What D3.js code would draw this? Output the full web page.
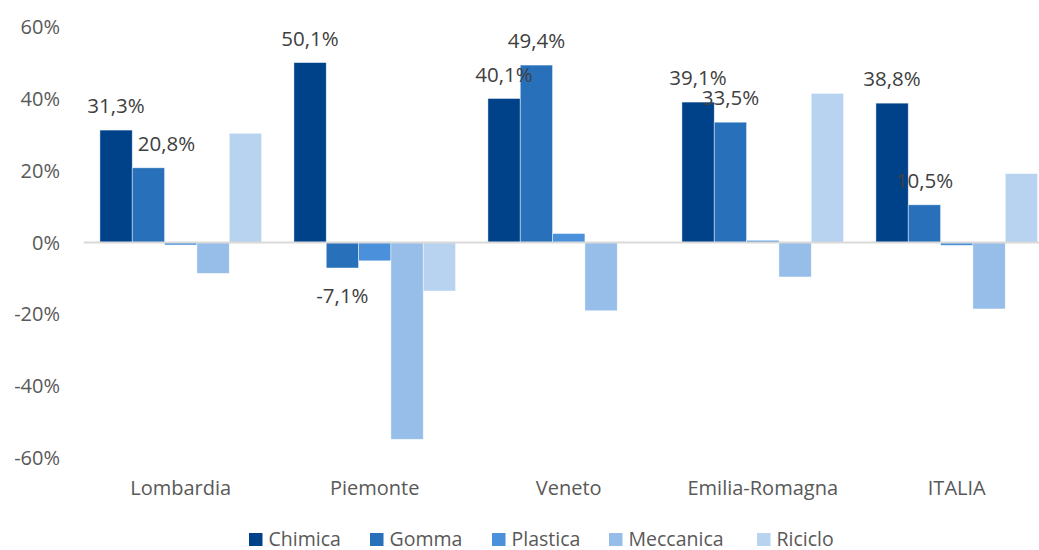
<!DOCTYPE html>
<html>
<head>
<meta charset="utf-8">
<script src="https://cdn.jsdelivr.net/npm/d3@7"></script>
<style>
  html, body { margin: 0; padding: 0; background: #fff; }
  svg { display: block; }
  text { font-family: "Open Sans", "Noto Sans", sans-serif; }
</style>
</head>
<body>
<svg id="chart" width="1039" height="550"></svg>
<script>
const categories = ["Lombardia", "Piemonte", "Veneto", "Emilia-Romagna", "ITALIA"];
const seriesNames = ["Chimica", "Gomma", "Plastica", "Meccanica", "Riciclo"];
const chimica   = [31.3, 50.1, 40.1, 39.1, 38.8];
const gomma     = [20.8, -7.1, 49.4, 33.5, 10.5];
const plastica  = [-0.7, -5.1, 2.5, 0.6, -0.8];
const meccanica = [-8.6, -54.8, -19.0, -9.6, -18.5];
const riciclo   = [30.4, -13.5, 0, 41.5, 19.2];
const yTicks = [-60, -40, -20, 0, 20, 40, 60];
const labelledSeries = ["Chimica", "Gomma"];
const colors = ["#00428A", "#2870BA", "#4A90DA", "#96BEE8", "#B8D3F0"];

const seriesValues = [chimica, gomma, plastica, meccanica, riciclo];
const fmt = v => d3.format(".1f")(v).replace(".", ",").replace("\u2212", "-") + "%";

const svg = d3.select("#chart");
const left = 83.75, step = 194;
const x0 = d3.scaleBand().domain(categories)
  .range([left, left + step * categories.length]).paddingInner(0).paddingOuter(0);
const x1 = d3.scaleBand().domain(seriesNames)
  .range([0, x0.bandwidth()]).paddingOuter(0.5).paddingInner(0);
const y = d3.scaleLinear().domain([-60, 60]).range([458, 27]);

// y axis labels
svg.append("g").selectAll("text").data(yTicks).join("text")
  .attr("x", 60).attr("y", d => y(d)).attr("dy", "0.35em")
  .attr("text-anchor", "end").attr("font-size", 20).attr("fill", "#595959")
  .text(d => d + "%");

// bars
const groups = svg.append("g").selectAll("g").data(categories).join("g")
  .attr("transform", d => `translate(${x0(d)},0)`);
groups.selectAll("rect")
  .data((c, ci) => seriesNames.map((s, si) => ({ s, si, v: seriesValues[si][ci], ci })))
  .join("rect")
  .filter(d => d.v !== 0)
  .attr("x", d => x1(d.s))
  .attr("width", x1.bandwidth())
  .attr("y", d => Math.min(y(d.v), y(0)))
  .attr("height", d => Math.abs(y(d.v) - y(0)))
  .attr("fill", d => colors[d.si])
  .attr("stroke", "#ffffff").attr("stroke-opacity", 0.6).attr("stroke-width", 0.75);

// zero line
svg.append("line").attr("x1", left).attr("x2", left + step * categories.length)
  .attr("y1", y(0)).attr("y2", y(0)).attr("stroke", "#D9D9D9").attr("stroke-width", 2);

// data labels
const labelNudge = { "Lombardia|Gomma": 18 };
const labelData = [];
categories.forEach((c, ci) => labelledSeries.forEach(s => {
  const si = seriesNames.indexOf(s);
  labelData.push({ c, s, v: seriesValues[si][ci] });
}));
svg.append("g").selectAll("text").data(labelData).join("text")
  .attr("x", d => x0(d.c) + x1(d.s) + x1.bandwidth() / 2 + (labelNudge[d.c + "|" + d.s] || 0))
  .attr("y", d => d.v >= 0 ? y(d.v) - 24 : y(d.v) + 28)
  .attr("dy", "0.35em")
  .attr("text-anchor", "middle").attr("font-size", 20.5).attr("fill", "#404040")
  .text(d => fmt(d.v));

// category labels
svg.append("g").selectAll("text").data(categories).join("text")
  .attr("x", d => x0(d) + x0.bandwidth() / 2).attr("y", 488).attr("dy", "0.35em")
  .attr("text-anchor", "middle").attr("font-size", 20).attr("fill", "#595959")
  .text(d => d);

// legend
const legendX = [249, 370, 492, 609, 757];
const lg = svg.append("g").selectAll("g").data(seriesNames).join("g")
  .attr("transform", (d, i) => `translate(${legendX[i]},533)`);
lg.append("rect").attr("width", 13.5).attr("height", 13).attr("fill", (d, i) => colors[i]);
lg.append("text").attr("x", 19.5).attr("y", 6.5).attr("dy", "0.35em")
  .attr("font-size", 19.5).attr("fill", "#595959").text(d => d);
</script>
</body>
</html>
